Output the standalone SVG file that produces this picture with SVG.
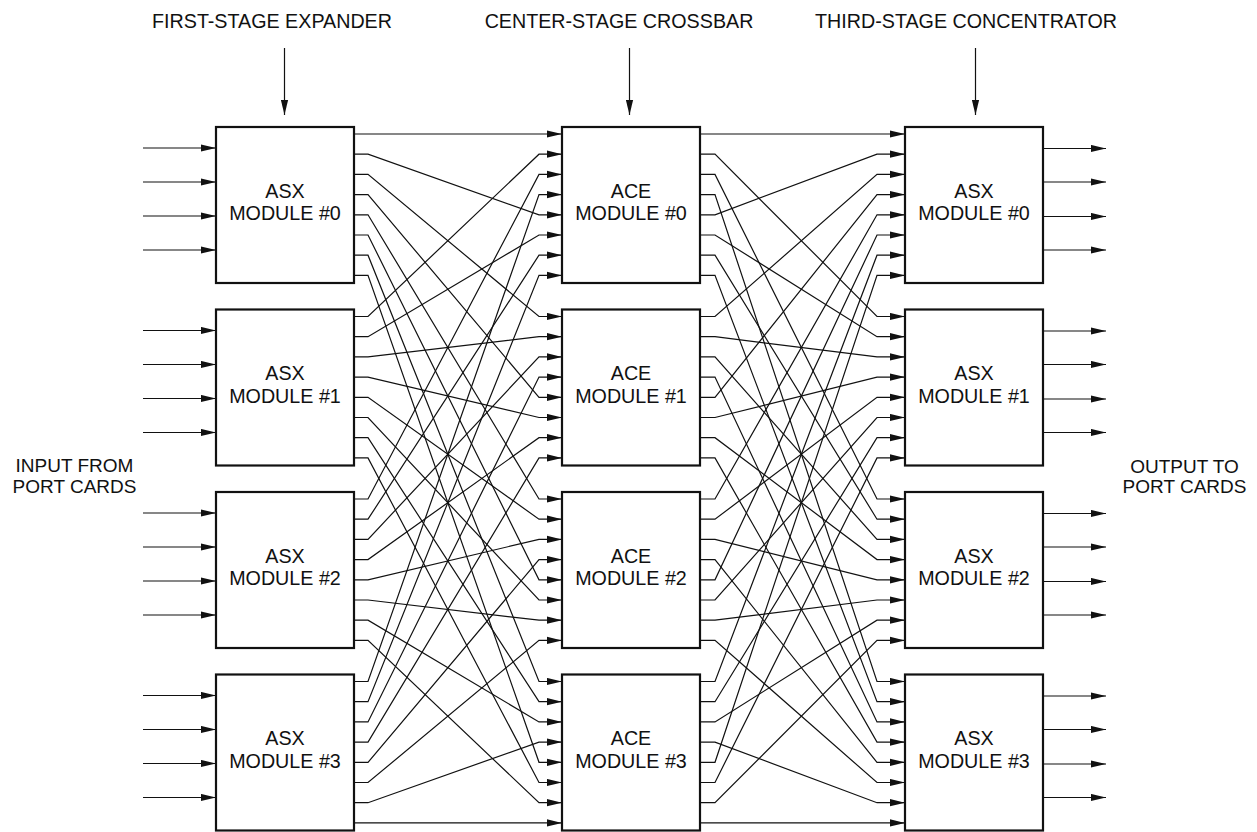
<svg xmlns="http://www.w3.org/2000/svg" width="1257" height="832" viewBox="0 0 1257 832">
<style>
text{font-family:"Liberation Sans",Arial,Helvetica,sans-serif;font-size:19.7px;fill:#111;text-anchor:middle}
text.side{font-size:19px}
.box{fill:#fff;stroke:#111;stroke-width:2.2}
.ln{fill:none;stroke:#111;stroke-width:1.2;marker-end:url(#ah)}
</style>
<defs>
<marker id="ah" markerUnits="userSpaceOnUse" markerWidth="16" markerHeight="8" refX="15" refY="4" orient="auto">
<path d="M0,0.4 L15,4 L0,7.6 z" fill="#111"/>
</marker>
</defs>

<g id="stage-labels">
<text x="272" y="27.5">FIRST-STAGE EXPANDER</text>
<text x="619" y="27.5">CENTER-STAGE CROSSBAR</text>
<text x="966" y="27.5">THIRD-STAGE CONCENTRATOR</text>
</g>
<g id="input-label">
<text class="side" x="74.5" y="472">INPUT FROM</text>
<text class="side" x="74.5" y="492.5">PORT CARDS</text>
</g>
<g id="output-label">
<text class="side" x="1184.5" y="472.5">OUTPUT TO</text>
<text class="side" x="1184.5" y="493">PORT CARDS</text>
</g>

<g id="connectors">
<line class="ln" x1="284.5" y1="48" x2="284.5" y2="115"/>
<line class="ln" x1="629.5" y1="48" x2="629.5" y2="115"/>
<line class="ln" x1="975.5" y1="48" x2="975.5" y2="115"/>
<line class="ln" x1="143" y1="148" x2="216" y2="148"/>
<line class="ln" x1="143" y1="182" x2="216" y2="182"/>
<line class="ln" x1="143" y1="216" x2="216" y2="216"/>
<line class="ln" x1="143" y1="250" x2="216" y2="250"/>
<line class="ln" x1="143" y1="330.5" x2="216" y2="330.5"/>
<line class="ln" x1="143" y1="364.5" x2="216" y2="364.5"/>
<line class="ln" x1="143" y1="398.5" x2="216" y2="398.5"/>
<line class="ln" x1="143" y1="432.5" x2="216" y2="432.5"/>
<line class="ln" x1="143" y1="513" x2="216" y2="513"/>
<line class="ln" x1="143" y1="547" x2="216" y2="547"/>
<line class="ln" x1="143" y1="581" x2="216" y2="581"/>
<line class="ln" x1="143" y1="615" x2="216" y2="615"/>
<line class="ln" x1="143" y1="695.5" x2="216" y2="695.5"/>
<line class="ln" x1="143" y1="729.5" x2="216" y2="729.5"/>
<line class="ln" x1="143" y1="763.5" x2="216" y2="763.5"/>
<line class="ln" x1="143" y1="797.5" x2="216" y2="797.5"/>
<line class="ln" x1="1043" y1="148.5" x2="1106" y2="148.5"/>
<line class="ln" x1="1043" y1="182" x2="1106" y2="182"/>
<line class="ln" x1="1043" y1="216.5" x2="1106" y2="216.5"/>
<line class="ln" x1="1043" y1="250" x2="1106" y2="250"/>
<line class="ln" x1="1043" y1="331" x2="1106" y2="331"/>
<line class="ln" x1="1043" y1="364.5" x2="1106" y2="364.5"/>
<line class="ln" x1="1043" y1="399" x2="1106" y2="399"/>
<line class="ln" x1="1043" y1="432.5" x2="1106" y2="432.5"/>
<line class="ln" x1="1043" y1="513.5" x2="1106" y2="513.5"/>
<line class="ln" x1="1043" y1="547" x2="1106" y2="547"/>
<line class="ln" x1="1043" y1="581.5" x2="1106" y2="581.5"/>
<line class="ln" x1="1043" y1="615" x2="1106" y2="615"/>
<line class="ln" x1="1043" y1="696" x2="1106" y2="696"/>
<line class="ln" x1="1043" y1="729.5" x2="1106" y2="729.5"/>
<line class="ln" x1="1043" y1="764" x2="1106" y2="764"/>
<line class="ln" x1="1043" y1="797.5" x2="1106" y2="797.5"/>

<polyline class="ln" points="354,134 368,134 539,134 562,134"/>
<polyline class="ln" points="354,154.2 368,154.2 539,214.8 562,214.8"/>
<polyline class="ln" points="354,174.4 368,174.4 539,316.5 562,316.5"/>
<polyline class="ln" points="354,194.6 368,194.6 539,397.3 562,397.3"/>
<polyline class="ln" points="354,214.8 368,214.8 539,499 562,499"/>
<polyline class="ln" points="354,235 368,235 539,579.8 562,579.8"/>
<polyline class="ln" points="354,255.2 368,255.2 539,681.5 562,681.5"/>
<polyline class="ln" points="354,275.4 368,275.4 539,762.3 562,762.3"/>
<polyline class="ln" points="354,316.5 368,316.5 539,154.2 562,154.2"/>
<polyline class="ln" points="354,336.7 368,336.7 539,235 562,235"/>
<polyline class="ln" points="354,356.9 368,356.9 539,336.7 562,336.7"/>
<polyline class="ln" points="354,377.1 368,377.1 539,417.5 562,417.5"/>
<polyline class="ln" points="354,397.3 368,397.3 539,519.2 562,519.2"/>
<polyline class="ln" points="354,417.5 368,417.5 539,600 562,600"/>
<polyline class="ln" points="354,437.7 368,437.7 539,701.7 562,701.7"/>
<polyline class="ln" points="354,457.9 368,457.9 539,782.5 562,782.5"/>
<polyline class="ln" points="354,499 368,499 539,174.4 562,174.4"/>
<polyline class="ln" points="354,519.2 368,519.2 539,255.2 562,255.2"/>
<polyline class="ln" points="354,539.4 368,539.4 539,356.9 562,356.9"/>
<polyline class="ln" points="354,559.6 368,559.6 539,437.7 562,437.7"/>
<polyline class="ln" points="354,579.8 368,579.8 539,539.4 562,539.4"/>
<polyline class="ln" points="354,600 368,600 539,620.2 562,620.2"/>
<polyline class="ln" points="354,620.2 368,620.2 539,721.9 562,721.9"/>
<polyline class="ln" points="354,640.4 368,640.4 539,802.7 562,802.7"/>
<polyline class="ln" points="354,681.5 368,681.5 539,194.6 562,194.6"/>
<polyline class="ln" points="354,701.7 368,701.7 539,275.4 562,275.4"/>
<polyline class="ln" points="354,721.9 368,721.9 539,377.1 562,377.1"/>
<polyline class="ln" points="354,742.1 368,742.1 539,457.9 562,457.9"/>
<polyline class="ln" points="354,762.3 368,762.3 539,559.6 562,559.6"/>
<polyline class="ln" points="354,782.5 368,782.5 539,640.4 562,640.4"/>
<polyline class="ln" points="354,802.7 368,802.7 539,742.1 562,742.1"/>
<polyline class="ln" points="354,822.9 368,822.9 539,822.9 562,822.9"/>

<polyline class="ln" points="700,134 715,134 877,134 905,134"/>
<polyline class="ln" points="700,154.2 715,154.2 877,316.5 905,316.5"/>
<polyline class="ln" points="700,174.4 715,174.4 877,499 905,499"/>
<polyline class="ln" points="700,194.6 715,194.6 877,681.5 905,681.5"/>
<polyline class="ln" points="700,214.8 715,214.8 877,154.2 905,154.2"/>
<polyline class="ln" points="700,235 715,235 877,336.7 905,336.7"/>
<polyline class="ln" points="700,255.2 715,255.2 877,519.2 905,519.2"/>
<polyline class="ln" points="700,275.4 715,275.4 877,701.7 905,701.7"/>
<polyline class="ln" points="700,316.5 715,316.5 877,174.4 905,174.4"/>
<polyline class="ln" points="700,336.7 715,336.7 877,356.9 905,356.9"/>
<polyline class="ln" points="700,356.9 715,356.9 877,539.4 905,539.4"/>
<polyline class="ln" points="700,377.1 715,377.1 877,721.9 905,721.9"/>
<polyline class="ln" points="700,397.3 715,397.3 877,194.6 905,194.6"/>
<polyline class="ln" points="700,417.5 715,417.5 877,377.1 905,377.1"/>
<polyline class="ln" points="700,437.7 715,437.7 877,559.6 905,559.6"/>
<polyline class="ln" points="700,457.9 715,457.9 877,742.1 905,742.1"/>
<polyline class="ln" points="700,499 715,499 877,214.8 905,214.8"/>
<polyline class="ln" points="700,519.2 715,519.2 877,397.3 905,397.3"/>
<polyline class="ln" points="700,539.4 715,539.4 877,579.8 905,579.8"/>
<polyline class="ln" points="700,559.6 715,559.6 877,762.3 905,762.3"/>
<polyline class="ln" points="700,579.8 715,579.8 877,235 905,235"/>
<polyline class="ln" points="700,600 715,600 877,417.5 905,417.5"/>
<polyline class="ln" points="700,620.2 715,620.2 877,600 905,600"/>
<polyline class="ln" points="700,640.4 715,640.4 877,782.5 905,782.5"/>
<polyline class="ln" points="700,681.5 715,681.5 877,255.2 905,255.2"/>
<polyline class="ln" points="700,701.7 715,701.7 877,437.7 905,437.7"/>
<polyline class="ln" points="700,721.9 715,721.9 877,620.2 905,620.2"/>
<polyline class="ln" points="700,742.1 715,742.1 877,802.7 905,802.7"/>
<polyline class="ln" points="700,762.3 715,762.3 877,275.4 905,275.4"/>
<polyline class="ln" points="700,782.5 715,782.5 877,457.9 905,457.9"/>
<polyline class="ln" points="700,802.7 715,802.7 877,640.4 905,640.4"/>
<polyline class="ln" points="700,822.9 715,822.9 877,822.9 905,822.9"/>
</g>

<g id="asx1-0"><rect class="box" x="216" y="127" width="138" height="156"/><text x="285" y="197.5">ASX</text><text x="285" y="220">MODULE #0</text></g>
<g id="asx1-1"><rect class="box" x="216" y="309.5" width="138" height="156"/><text x="285" y="380">ASX</text><text x="285" y="402.5">MODULE #1</text></g>
<g id="asx1-2"><rect class="box" x="216" y="492" width="138" height="156"/><text x="285" y="562.5">ASX</text><text x="285" y="585">MODULE #2</text></g>
<g id="asx1-3"><rect class="box" x="216" y="674.5" width="138" height="156"/><text x="285" y="745">ASX</text><text x="285" y="767.5">MODULE #3</text></g>

<g id="ace-0"><rect class="box" x="562" y="127" width="138" height="156"/><text x="631" y="197.5">ACE</text><text x="631" y="220">MODULE #0</text></g>
<g id="ace-1"><rect class="box" x="562" y="309.5" width="138" height="156"/><text x="631" y="380">ACE</text><text x="631" y="402.5">MODULE #1</text></g>
<g id="ace-2"><rect class="box" x="562" y="492" width="138" height="156"/><text x="631" y="562.5">ACE</text><text x="631" y="585">MODULE #2</text></g>
<g id="ace-3"><rect class="box" x="562" y="674.5" width="138" height="156"/><text x="631" y="745">ACE</text><text x="631" y="767.5">MODULE #3</text></g>

<g id="asx3-0"><rect class="box" x="905" y="127" width="138" height="156"/><text x="974" y="197.5">ASX</text><text x="974" y="220">MODULE #0</text></g>
<g id="asx3-1"><rect class="box" x="905" y="309.5" width="138" height="156"/><text x="974" y="380">ASX</text><text x="974" y="402.5">MODULE #1</text></g>
<g id="asx3-2"><rect class="box" x="905" y="492" width="138" height="156"/><text x="974" y="562.5">ASX</text><text x="974" y="585">MODULE #2</text></g>
<g id="asx3-3"><rect class="box" x="905" y="674.5" width="138" height="156"/><text x="974" y="745">ASX</text><text x="974" y="767.5">MODULE #3</text></g>
</svg>
